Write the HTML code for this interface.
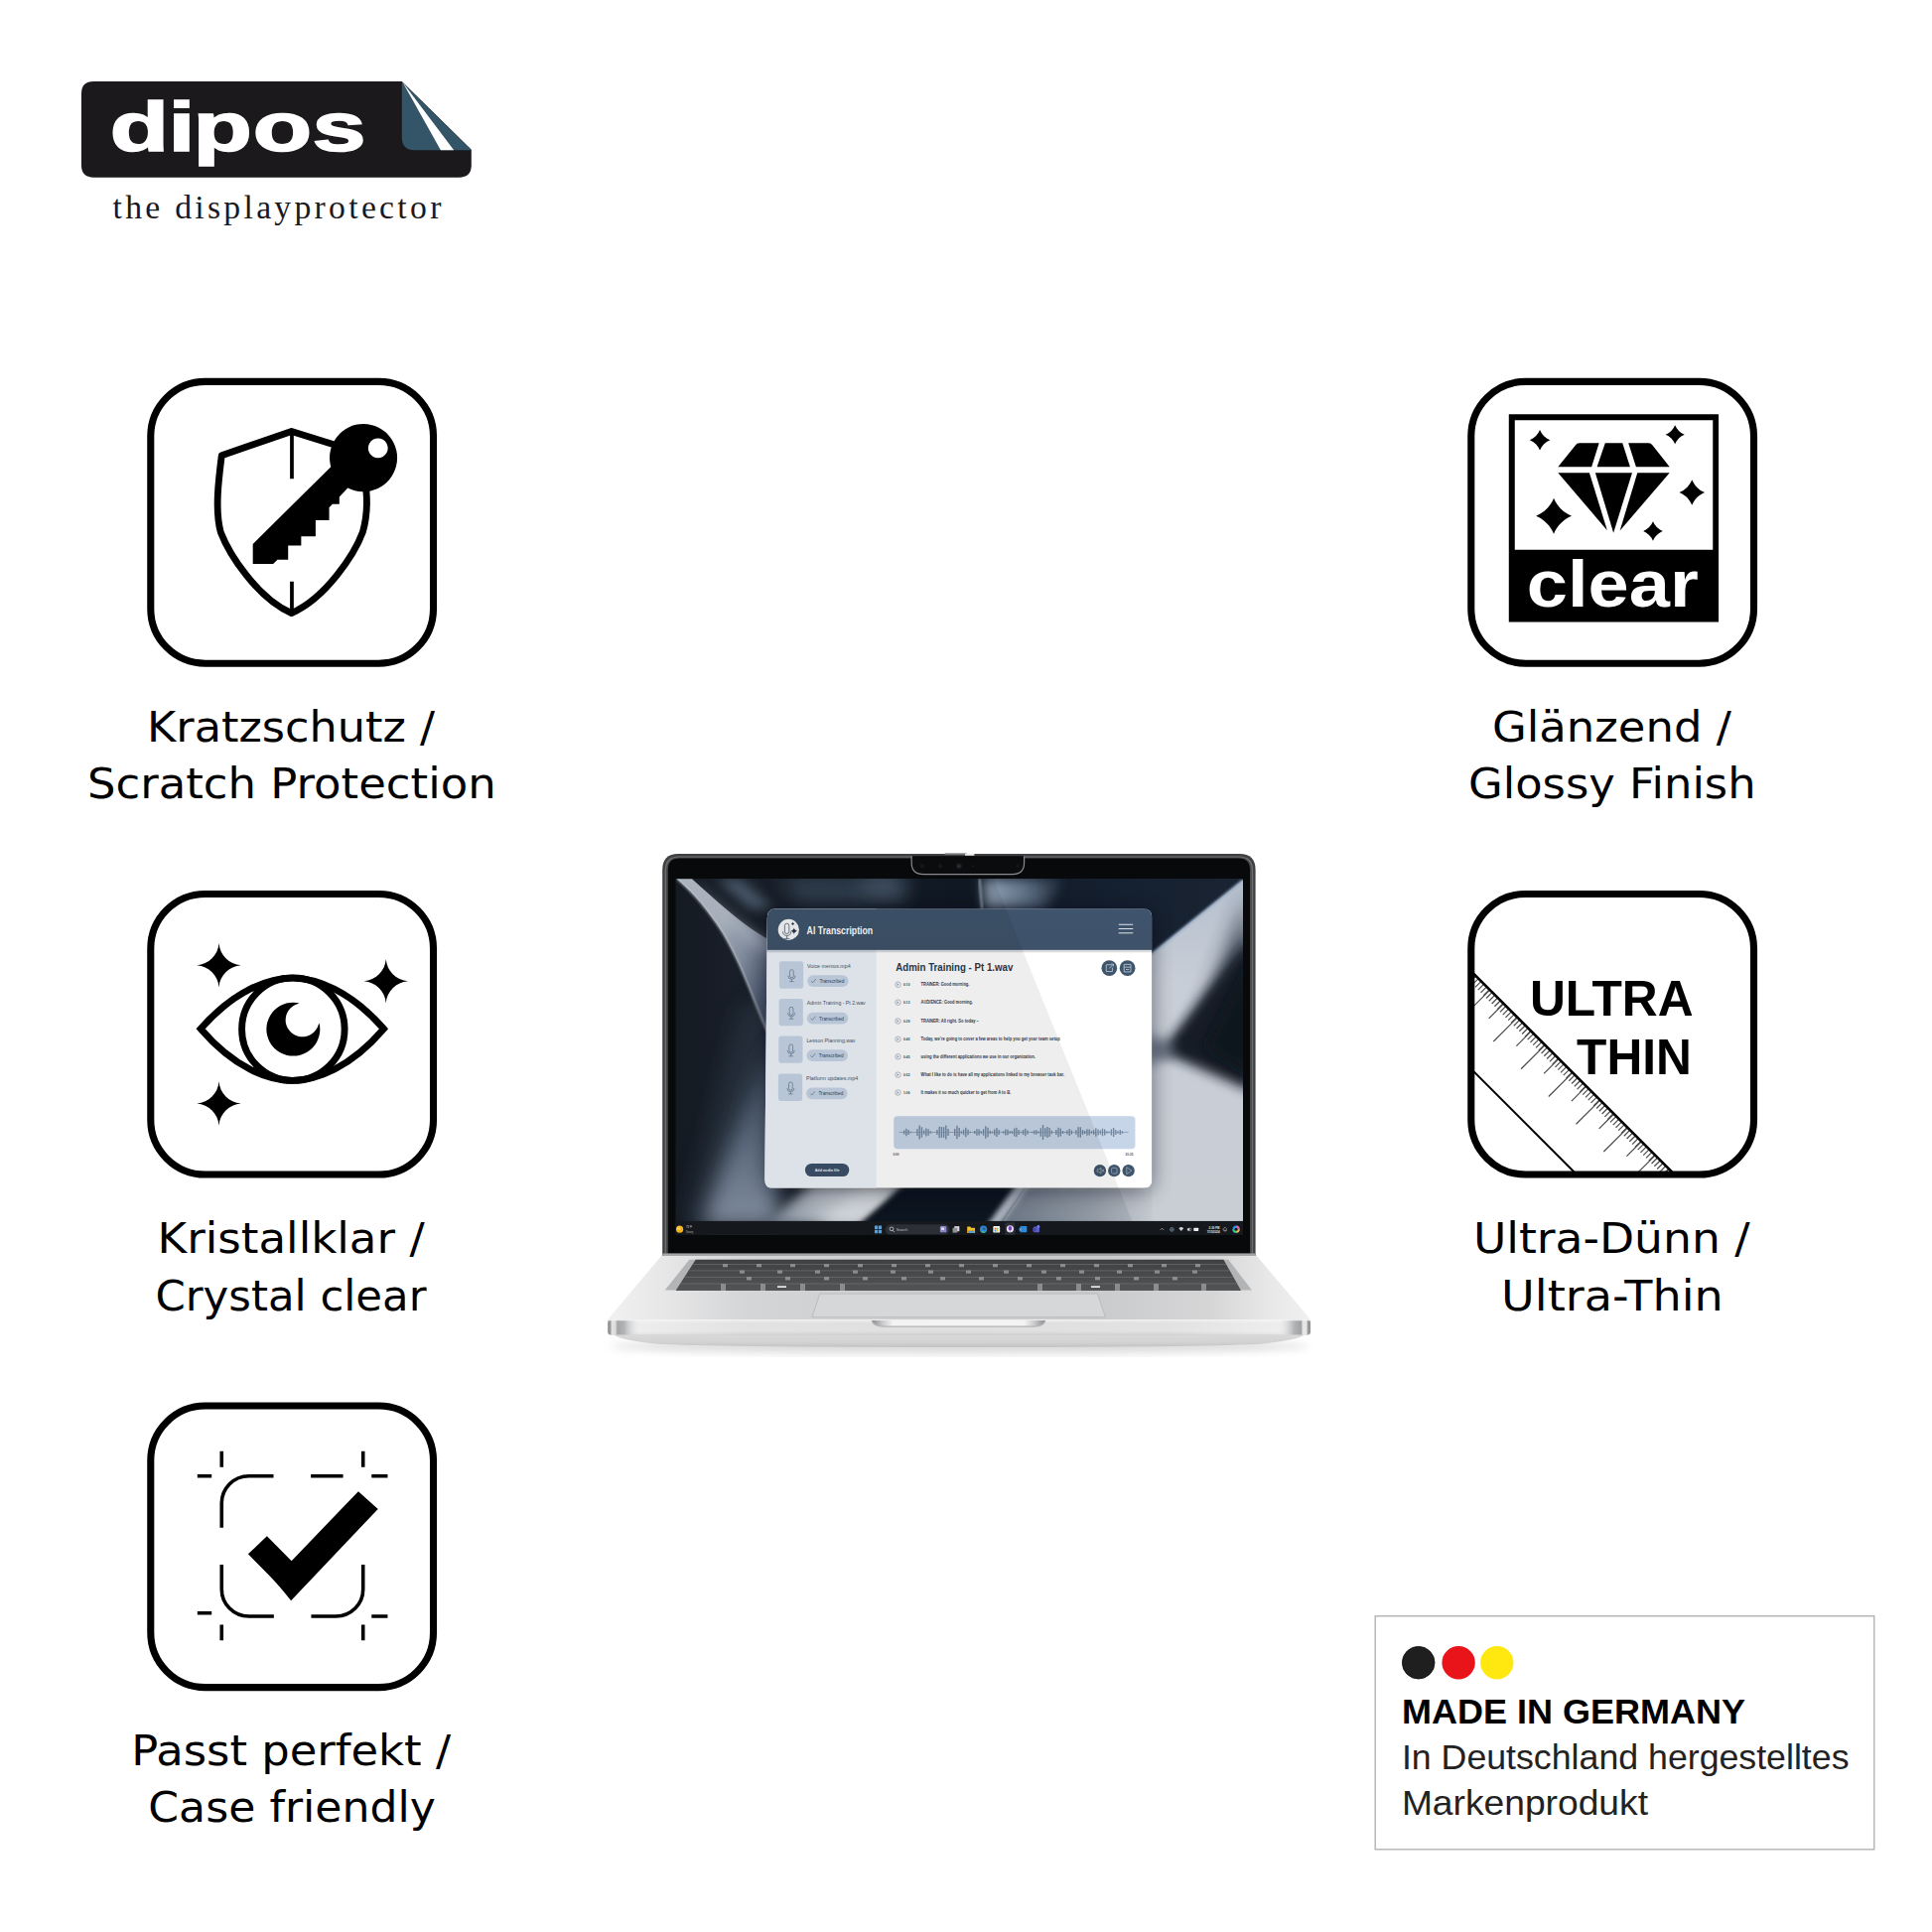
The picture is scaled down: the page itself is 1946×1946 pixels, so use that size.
<!DOCTYPE html>
<html lang="de">
<head>
<meta charset="utf-8">
<title>dipos – the displayprotector</title>
<style>
html,body{margin:0;padding:0;background:#fff;}
body{width:1946px;height:1946px;overflow:hidden;position:relative;}
svg{position:absolute;left:0;top:0;display:block;}
.cap{font-family:"DejaVu Sans","Liberation Sans",sans-serif;font-size:43px;fill:#000;text-anchor:middle;}
.hb{font-family:"Liberation Sans",sans-serif;font-weight:bold;}
.hr{font-family:"Liberation Sans",sans-serif;}
.box{fill:none;stroke:#000;stroke-width:41.5;}
</style>
</head>
<body>
<svg width="1946" height="1946" viewBox="0 0 1946 1946">
<rect width="1946" height="1946" fill="#fff"/>
<!-- LOGO -->
<g transform="translate(70,70) scale(0.217391)">
  <path d="M112,55 H1540 L1862,372 V443 Q1862,500 1805,500 H112 Q55,500 55,443 V112 Q55,55 112,55Z" fill="#1c191d"/>
  <path d="M1540,57 L1862,374 H1600 Q1540,374 1540,314Z" fill="#335567"/>
  <path d="M1544,60 L1781,374 H1720Z" fill="#fff"/>
  <text transform="scale(1.375,1)" x="136.1 332.8 416.8 618.2 818" y="377" class="hb" font-size="325" fill="#fff" stroke="#fff" stroke-width="8" stroke-linejoin="miter">dipos</text>
  <text x="200" y="690" font-family="'Liberation Serif',serif" font-size="155" fill="#1c191d" textLength="1522" lengthAdjust="spacing">the displayprotector</text>
</g>
<!-- ICON 1: scratch protection -->
<g transform="translate(130,360) scale(0.170807)">
  <rect x="127.5" y="142.5" width="1667" height="1662" rx="322" ry="322" class="box"/>
  <path d="M1240,524 L958,436 L546,578 C528,720 505,900 540,1030 C590,1160 756,1420 958,1508 C1160,1420 1330,1160 1378,1030 C1398,960 1408,880 1398,780"  fill="none" stroke="#000" stroke-width="40" stroke-linejoin="round" stroke-linecap="butt"/>
  <path d="M960,455 V716 M960,1322 V1492" stroke="#000" stroke-width="22" fill="none"/>
  <path fill-rule="evenodd" d="M1383,392 A200,200 0 1 1 1290,770 L1240,822 V865 H1200 L1180,885 V960 H1100 V1055 H1015 V1110 H938 V1193 H875 L850,1218 H730 V1100 L1190,645 A200,200 0 0 1 1383,392Z M1468,477 A58,58 0 1 0 1468.1,477Z" fill="#000"/>
</g>
<!-- ICON 2: crystal clear -->
<g transform="translate(130,880) scale(0.170807)">
  <rect x="127.5" y="120" width="1667" height="1654" rx="322" ry="322" class="box"/>
  <path d="M422,915 C620,690 820,615 962,615 C1105,615 1305,690 1502,915 C1305,1145 1105,1220 962,1220 C820,1220 620,1145 422,915Z" fill="none" stroke="#000" stroke-width="40" stroke-linejoin="miter"/>
  <circle cx="968" cy="917" r="303" fill="none" stroke="#000" stroke-width="40"/>
  <path fill-rule="evenodd" d="M968,759 A158,158 0 1 0 968.1,759Z M1022,764 A99,99 0 1 1 1021.9,764Z" fill="#000"/>
  <path d="M1000,762 A100,100 0 0 0 1122,885 L1140,820 L1060,750Z" fill="#fff"/>
  <path d="M530.0,410.0C535.2,480.2 589.8,534.8 660.0,540.0C589.8,545.2 535.2,599.8 530.0,670.0C524.8,599.8 470.2,545.2 400.0,540.0C470.2,534.8 524.8,480.2 530.0,410.0Z" fill="#000"/>
  <path d="M1515.0,504.0C1520.2,574.2 1574.8,628.8 1645.0,634.0C1574.8,639.2 1520.2,693.8 1515.0,764.0C1509.8,693.8 1455.2,639.2 1385.0,634.0C1455.2,628.8 1509.8,574.2 1515.0,504.0Z" fill="#000"/>
  <path d="M530.0,1225.0C535.2,1295.2 589.8,1349.8 660.0,1355.0C589.8,1360.2 535.2,1414.8 530.0,1485.0C524.8,1414.8 470.2,1360.2 400.0,1355.0C470.2,1349.8 524.8,1295.2 530.0,1225.0Z" fill="#000"/>
</g>
<!-- ICON 3: case friendly -->
<g transform="translate(130,1400) scale(0.170807)">
  <rect x="127.5" y="94" width="1667" height="1660" rx="322" ry="322" class="box"/>
  <g fill="none" stroke="#000" stroke-width="21">
    <path d="M546,812 V668 A160,160 0 0 1 706,508 H852"/>
    <path d="M1072,508 H1262"/>
    <path d="M546,1030 V1175 A160,160 0 0 0 706,1335 H854"/>
    <path d="M1380,1030 V1175 A160,160 0 0 1 1220,1335 H1074"/>
    <path d="M546,362 V455 M1380,362 V455 M546,1385 V1477 M1380,1385 V1477"/>
    <path d="M403,508 H487 M1430,508 H1525 M403,1316 H487 M1430,1335 H1525"/>
  </g>
  <path d="M702,968 L813,862 L958,1008 L1352,598 L1468,702 L955,1243 Q890,1160 830,1098Z" fill="#000"/>
</g>
<!-- ICON 4: glossy / clear -->
<g transform="translate(1460,360) scale(0.170807)">
  <rect x="127.5" y="142.5" width="1667" height="1662" rx="322" ry="322" class="box"/>
  <path fill-rule="evenodd" d="M350,335 H1587 V1560 H350Z M385,370 V1135 H1553 V370Z" fill="#000"/>
  <path d="M765,505 H882 L838,645 H640 L745,515 Q753,505 765,505Z" fill="#000"/>
  <path d="M918,505 H1020 L1065,645 H870Z" fill="#000"/>
  <path d="M1055,505 H1175 Q1187,505 1195,515 L1298,645 H1100Z" fill="#000"/>
  <path d="M640,680 H825 L930,1020Z" fill="#000"/>
  <path d="M860,680 H1077 L967,1035Z" fill="#000"/>
  <path d="M1108,680 H1298 L1005,1022Z" fill="#000"/>
  <path d="M533.0,427.0C543.8,454.0 566.0,476.2 593.0,487.0C566.0,497.8 543.8,520.0 533.0,547.0C522.2,520.0 500.0,497.8 473.0,487.0C500.0,476.2 522.2,454.0 533.0,427.0Z" fill="#000"/>
  <path d="M1330.0,399.0C1340.1,424.2 1360.8,444.9 1386.0,455.0C1360.8,465.1 1340.1,485.8 1330.0,511.0C1319.9,485.8 1299.2,465.1 1274.0,455.0C1299.2,444.9 1319.9,424.2 1330.0,399.0Z" fill="#000"/>
  <path d="M1430.0,721.0C1443.5,754.8 1471.2,782.5 1505.0,796.0C1471.2,809.5 1443.5,837.2 1430.0,871.0C1416.5,837.2 1388.8,809.5 1355.0,796.0C1388.8,782.5 1416.5,754.8 1430.0,721.0Z" fill="#000"/>
  <path d="M615.0,830.0C633.9,877.2 672.8,916.1 720.0,935.0C672.8,953.9 633.9,992.8 615.0,1040.0C596.1,992.8 557.2,953.9 510.0,935.0C557.2,916.1 596.1,877.2 615.0,830.0Z" fill="#000"/>
  <path d="M1200.0,968.0C1210.3,993.6 1231.3,1014.7 1257.0,1025.0C1231.3,1035.3 1210.3,1056.3 1200.0,1082.0C1189.7,1056.3 1168.7,1035.3 1143.0,1025.0C1168.7,1014.7 1189.7,993.6 1200.0,968.0Z" fill="#000"/>
  <text x="456" y="1472" class="hb" font-size="388" fill="#fff" textLength="1012" lengthAdjust="spacingAndGlyphs">clear</text>
</g>
<!-- ICON 5: ultra thin -->
<g transform="translate(1460,880) scale(0.170807)">
  <defs><clipPath id="cpU"><rect x="127.5" y="120" width="1667" height="1654" rx="322" ry="322"/></clipPath></defs>
  <g clip-path="url(#cpU)">
    <g transform="translate(148,595) rotate(45)">
      <!-- x axis runs along the ruler's upper edge, y axis points into the ruler -->
      <line x1="-40" y1="25" x2="1700" y2="25" stroke="#4a4a4a" stroke-width="50" stroke-dasharray="7 15.98"/>
      <line x1="9.3" y1="62" x2="1700" y2="62" stroke="#4a4a4a" stroke-width="124" stroke-dasharray="7 222.81"/>
      <line x1="124.2" y1="100" x2="1700" y2="100" stroke="#4a4a4a" stroke-width="200" stroke-dasharray="7 222.81"/>
      <line x1="-40" y1="0" x2="1700" y2="0" stroke="#000" stroke-width="15"/>
      <line x1="-40" y1="408" x2="1700" y2="408" stroke="#000" stroke-width="12"/>
    </g>
  </g>
  <rect x="127.5" y="120" width="1667" height="1654" rx="322" ry="322" class="box"/>
  <text x="474" y="838" class="hb" font-size="296" fill="#000" textLength="964" lengthAdjust="spacingAndGlyphs">ULTRA</text>
  <text x="750" y="1180" class="hb" font-size="296" fill="#000" textLength="678" lengthAdjust="spacingAndGlyphs">THIN</text>
</g>
<!-- CAPTIONS -->
<g class="cap">
<text x="293.1" y="746.6" textLength="290.0" lengthAdjust="spacingAndGlyphs">Kratzschutz /</text>
<text x="293.8" y="804.1" textLength="411.7" lengthAdjust="spacingAndGlyphs">Scratch Protection</text>
<text x="293.1" y="1262.4" textLength="269.0" lengthAdjust="spacingAndGlyphs">Kristallklar /</text>
<text x="293.0" y="1319.5" textLength="273.1" lengthAdjust="spacingAndGlyphs">Crystal clear</text>
<text x="293.1" y="1778.1" textLength="321.8" lengthAdjust="spacingAndGlyphs">Passt perfekt /</text>
<text x="294.1" y="1834.5" textLength="289.6" lengthAdjust="spacingAndGlyphs">Case friendly</text>
<text x="1623.4" y="746.6" textLength="240.8" lengthAdjust="spacingAndGlyphs">Glänzend /</text>
<text x="1623.8" y="804.1" textLength="289.7" lengthAdjust="spacingAndGlyphs">Glossy Finish</text>
<text x="1623.3" y="1262.4" textLength="278.7" lengthAdjust="spacingAndGlyphs">Ultra-Dünn /</text>
<text x="1623.9" y="1319.5" textLength="223.6" lengthAdjust="spacingAndGlyphs">Ultra-Thin</text>
</g>
<!-- MADE IN GERMANY -->
<rect x="1385.2" y="1627.8" width="502.6" height="235" fill="#fff" stroke="#adadad" stroke-width="1.3"/>
<circle cx="1428.7" cy="1674.7" r="16.3" fill="#1f1f1f" stroke="#121212" stroke-width="0.9"/>
<circle cx="1469.1" cy="1674.7" r="16.7" fill="#e9141a"/>
<circle cx="1507.8" cy="1674.7" r="16.7" fill="#ffe80f"/>
<text x="1412" y="1736.3" class="hb" font-size="35.2" fill="#000" textLength="346" lengthAdjust="spacingAndGlyphs">MADE IN GERMANY</text>
<text x="1411.9" y="1782.1" class="hr" font-size="35.6" fill="#222" textLength="450.6" lengthAdjust="spacingAndGlyphs">In Deutschland hergestelltes</text>
<text x="1411.9" y="1827.8" class="hr" font-size="35.6" fill="#222" textLength="248.1" lengthAdjust="spacingAndGlyphs">Markenprodukt</text>
<!-- LAPTOP -->
<defs>
  <filter id="b4" x="-20%" y="-20%" width="140%" height="140%"><feGaussianBlur stdDeviation="4"/></filter>
  <filter id="b8" x="-30%" y="-30%" width="160%" height="160%"><feGaussianBlur stdDeviation="8"/></filter>
  <filter id="b2" x="-20%" y="-20%" width="140%" height="140%"><feGaussianBlur stdDeviation="2"/></filter>
  <filter id="b1" x="-20%" y="-20%" width="140%" height="140%"><feGaussianBlur stdDeviation="1"/></filter>
  <linearGradient id="gDeck" x1="0" y1="0" x2="1" y2="0">
    <stop offset="0" stop-color="#f1f1f1"/><stop offset="0.08" stop-color="#e7e7e8"/><stop offset="0.2" stop-color="#d4d5d6"/><stop offset="0.45" stop-color="#cccdcf"/><stop offset="0.7" stop-color="#cacbcd"/><stop offset="0.86" stop-color="#d6d6d7"/><stop offset="0.94" stop-color="#e8e8e8"/><stop offset="1" stop-color="#f0f0f0"/>
  </linearGradient>
  <linearGradient id="gLip" x1="0" y1="0" x2="0" y2="1">
    <stop offset="0" stop-color="#e9e9ea"/><stop offset="0.25" stop-color="#dededf"/><stop offset="0.7" stop-color="#e0e0e1"/><stop offset="0.9" stop-color="#d8d8d9"/><stop offset="1" stop-color="#c8c8c9"/>
  </linearGradient>
  <linearGradient id="gLipH" x1="0" y1="0" x2="1" y2="0">
    <stop offset="0" stop-color="#fff" stop-opacity="0.55"/><stop offset="0.2" stop-color="#fff" stop-opacity="0.1"/><stop offset="0.5" stop-color="#fff" stop-opacity="0"/><stop offset="0.8" stop-color="#fff" stop-opacity="0.1"/><stop offset="1" stop-color="#fff" stop-opacity="0.55"/>
  </linearGradient>
  <linearGradient id="gNotch" x1="0" y1="0" x2="1" y2="0">
    <stop offset="0" stop-color="#8d8e90"/><stop offset="0.06" stop-color="#c9c9ca"/><stop offset="0.12" stop-color="#f3f3f3"/><stop offset="0.88" stop-color="#f3f3f3"/><stop offset="0.94" stop-color="#c9c9ca"/><stop offset="1" stop-color="#8d8e90"/>
  </linearGradient>
  <linearGradient id="gUnder" x1="0" y1="0" x2="0" y2="1">
    <stop offset="0" stop-color="#c9c9ca"/><stop offset="0.15" stop-color="#dadadb"/><stop offset="0.7" stop-color="#d3d3d4"/><stop offset="1" stop-color="#c2c2c3"/>
  </linearGradient>
  <linearGradient id="gLipEnd" x1="0" y1="0" x2="1" y2="0">
    <stop offset="0" stop-color="#8e8f91"/><stop offset="0.0035" stop-color="#9a9b9d"/><stop offset="0.006" stop-color="#e2e2e3"/><stop offset="0.011" stop-color="#dcdcdd"/><stop offset="0.0135" stop-color="#a4a5a7"/><stop offset="0.023" stop-color="#b2b3b5"/><stop offset="0.045" stop-color="#e4e4e5" stop-opacity="0"/>
    <stop offset="0.955" stop-color="#e4e4e5" stop-opacity="0"/><stop offset="0.977" stop-color="#b2b3b5"/><stop offset="0.9865" stop-color="#a0a1a3"/><stop offset="0.989" stop-color="#e4e4e5"/><stop offset="0.994" stop-color="#e8e8e9"/><stop offset="0.9965" stop-color="#9a9b9d"/><stop offset="1" stop-color="#8e8f91"/>
  </linearGradient>
  <linearGradient id="gKb" x1="0" y1="0" x2="0" y2="1">
    <stop offset="0" stop-color="#3f4042"/><stop offset="1" stop-color="#535456"/>
  </linearGradient>
  <clipPath id="cpScreen"><rect x="680.5" y="885" width="571.5" height="358.8"/></clipPath>
</defs>
<!-- ground shadow -->
<ellipse cx="966" cy="1356" rx="352" ry="7.5" fill="#a9a9ab" opacity="0.42" filter="url(#b4)"/>
<!-- underside curve -->
<path d="M612.5,1340 Q616,1349 660,1353.5 Q720,1357 966,1357 Q1212,1357 1272,1353.5 Q1316,1349 1319.8,1340Z" fill="url(#gUnder)"/>
<!-- deck -->
<path d="M667,1264 H1265 L1320,1329 V1332 H612.2 V1329Z" fill="url(#gDeck)"/>
<!-- front lip -->
<path d="M614.5,1329.5 H1317.7 Q1320,1329.5 1320,1332 V1341.5 Q1320,1344.5 1317,1344.5 H615.2 Q612.2,1344.5 612.2,1341.5 V1332 Q612.2,1329.5 614.5,1329.5Z" fill="url(#gLip)"/>
<rect x="612.2" y="1329.5" width="707.8" height="15" fill="url(#gLipH)"/>
<path d="M614.5,1329.5 H1317.7 Q1320,1329.5 1320,1332 V1341.5 Q1320,1344.5 1317,1344.5 H615.2 Q612.2,1344.5 612.2,1341.5 V1332 Q612.2,1329.5 614.5,1329.5Z" fill="url(#gLipEnd)"/>
<path d="M613,1329.7 H1319.2" stroke="#f4f4f4" stroke-width="1.1"/>
<!-- thumb notch -->
<path d="M877.5,1330 Q879,1336.8 890,1336.8 H1041 Q1052,1336.8 1053.5,1330Z" fill="#b3b4b6"/>
<path d="M878.5,1330 Q880,1335.6 891,1335.6 H1040 Q1051,1335.6 1052.5,1330Z" fill="url(#gNotch)"/>
<!-- keyboard rim and keys -->
<path d="M694.4,1268.7 H1237.3 L1260.9,1299.6 H669.8Z" fill="#b3b4b6"/>
<path d="M700.7,1268.7 H1232.4 L1250.1,1300.1 H680.6Z" fill="url(#gKb)"/>
<g stroke="#6e6f71" stroke-width="0.9" opacity="0.8">
  <path d="M697.5,1273.6 H1235.2 M693.5,1279.9 H1238.7 M689.3,1286.4 H1242.4 M685.2,1293 H1246.1"/>
</g>
<g fill="#8b8c8e">
  <rect x="728" y="1273" width="5" height="3.2"/><rect x="762" y="1273" width="5" height="3.2"/><rect x="796" y="1273" width="5" height="3.2"/><rect x="830" y="1273" width="5" height="3.2"/><rect x="864" y="1273" width="5" height="3.2"/><rect x="898" y="1273" width="5" height="3.2"/><rect x="932" y="1273" width="5" height="3.2"/><rect x="966" y="1273" width="5" height="3.2"/><rect x="1000" y="1273" width="5" height="3.2"/><rect x="1034" y="1273" width="5" height="3.2"/><rect x="1068" y="1273" width="5" height="3.2"/><rect x="1102" y="1273" width="5" height="3.2"/><rect x="1136" y="1273" width="5" height="3.2"/><rect x="1170" y="1273" width="5" height="3.2"/><rect x="1204" y="1273" width="5" height="3.2"/>
  <rect x="745" y="1279.5" width="5" height="3.2"/><rect x="783" y="1279.5" width="5" height="3.2"/><rect x="821" y="1279.5" width="5" height="3.2"/><rect x="859" y="1279.5" width="5" height="3.2"/><rect x="897" y="1279.5" width="5" height="3.2"/><rect x="935" y="1279.5" width="5" height="3.2"/><rect x="973" y="1279.5" width="5" height="3.2"/><rect x="1011" y="1279.5" width="5" height="3.2"/><rect x="1049" y="1279.5" width="5" height="3.2"/><rect x="1087" y="1279.5" width="5" height="3.2"/><rect x="1125" y="1279.5" width="5" height="3.2"/><rect x="1163" y="1279.5" width="5" height="3.2"/><rect x="1201" y="1279.5" width="5" height="3.2"/>
  <rect x="752" y="1286" width="5" height="3.4"/><rect x="791" y="1286" width="5" height="3.4"/><rect x="830" y="1286" width="5" height="3.4"/><rect x="869" y="1286" width="5" height="3.4"/><rect x="908" y="1286" width="5" height="3.4"/><rect x="947" y="1286" width="5" height="3.4"/><rect x="986" y="1286" width="5" height="3.4"/><rect x="1025" y="1286" width="5" height="3.4"/><rect x="1064" y="1286" width="5" height="3.4"/><rect x="1103" y="1286" width="5" height="3.4"/><rect x="1142" y="1286" width="5" height="3.4"/><rect x="1181" y="1286" width="5" height="3.4"/>
  <rect x="726" y="1293" width="5" height="7"/><rect x="766" y="1293" width="5" height="7"/><rect x="806" y="1293" width="5" height="7"/><rect x="846" y="1293" width="5" height="7"/><rect x="1045" y="1293" width="5" height="7"/><rect x="1084" y="1293" width="5" height="7"/><rect x="1123" y="1293" width="5" height="7"/><rect x="1162" y="1293" width="5" height="7"/><rect x="1210" y="1293" width="5" height="7"/>
</g>
<rect x="783" y="1295.3" width="9" height="1.6" fill="#f2f2f2"/><rect x="1099" y="1295.3" width="9" height="1.6" fill="#f2f2f2"/>
<!-- trackpad -->
<path d="M825.8,1303.1 H1105.5 L1113.4,1326.7 H817.9Z" fill="#d6d7d8" stroke="#b4b5b7" stroke-width="0.8"/>
<!-- lid -->
<path d="M667.2,1264.8 V876.2 Q667.2,860.1 683.3,860.1 H1248.5 Q1264.6,860.1 1264.6,876.2 V1264.8Z" fill="#3f4042"/>
<path d="M669.6,1264.8 V876.6 Q669.6,862.4 683.8,862.4 H1248 Q1262.2,862.4 1262.2,876.6 V1264.8Z" fill="#6d6e71"/>
<path d="M671,1264.8 V877 Q671,863.6 684.4,863.6 H1247.4 Q1260.8,863.6 1260.8,877 V1264.8Z" fill="#47484a"/>
<path d="M672.8,1262.4 V876 Q672.8,864.5 684.3,864.5 H1247.5 Q1259,864.5 1259,876 V1262.4Z" fill="#08090a"/>
<path d="M667.4,1262.4 H1264.4 V1264.9 H667.4Z" fill="#a4a5a7"/>
<!-- SCREEN -->
<defs>
  <filter id="w60" x="-40%" y="-40%" width="180%" height="180%"><feGaussianBlur stdDeviation="60"/></filter>
  <filter id="w35" x="-40%" y="-40%" width="180%" height="180%"><feGaussianBlur stdDeviation="35"/></filter>
  <filter id="w15" x="-40%" y="-40%" width="180%" height="180%"><feGaussianBlur stdDeviation="15"/></filter>
  <filter id="w6" x="-40%" y="-40%" width="180%" height="180%"><feGaussianBlur stdDeviation="6"/></filter>
  <linearGradient id="gWall" x1="0" y1="0" x2="1" y2="0">
    <stop offset="0" stop-color="#161c25"/><stop offset="0.1" stop-color="#1b222c"/><stop offset="0.5" stop-color="#121a26"/><stop offset="0.78" stop-color="#152030"/><stop offset="1" stop-color="#1a2432"/>
  </linearGradient>
  <linearGradient id="gPeel" x1="0" y1="0" x2="1" y2="0.9">
    <stop offset="0" stop-color="#bac2cd"/><stop offset="0.4" stop-color="#b0b9c6"/><stop offset="0.62" stop-color="#8a96a8"/><stop offset="0.85" stop-color="#56637a"/><stop offset="1" stop-color="#3f4b5c"/>
  </linearGradient>
  <linearGradient id="gLeftLow" x1="0" y1="0" x2="0" y2="1">
    <stop offset="0" stop-color="#3d4a5b"/><stop offset="0.5" stop-color="#5e6d82"/><stop offset="1" stop-color="#8a97a9"/>
  </linearGradient>
  <linearGradient id="gFold" x1="0" y1="0" x2="0" y2="1">
    <stop offset="0" stop-color="#b5bfcd"/><stop offset="0.3" stop-color="#c8ced7"/><stop offset="1" stop-color="#c9ced5"/>
  </linearGradient>
  <linearGradient id="gStreak" x1="0" y1="0" x2="1" y2="0">
    <stop offset="0" stop-color="#95a6ba"/><stop offset="0.5" stop-color="#62748a"/><stop offset="1" stop-color="#1a2533"/>
  </linearGradient>
  <linearGradient id="gBeam" x1="0" y1="0" x2="1" y2="0">
    <stop offset="0" stop-color="#7a8798"/><stop offset="0.4" stop-color="#c0c7d0"/><stop offset="0.75" stop-color="#dfe2e7"/><stop offset="1" stop-color="#cfd4da"/>
  </linearGradient>
  <linearGradient id="gBotR" x1="0" y1="0" x2="1" y2="0">
    <stop offset="0" stop-color="#6f7b8a"/><stop offset="0.6" stop-color="#9aa3af"/><stop offset="1" stop-color="#c4c9d0"/>
  </linearGradient>
  <linearGradient id="gWin" x1="0" y1="0" x2="0" y2="1">
    <stop offset="0" stop-color="#3f556d"/><stop offset="1" stop-color="#3e526a"/>
  </linearGradient>
</defs>
<g clip-path="url(#cpScreen)">
 <g transform="translate(650,845) scale(0.170807)">
  <rect x="150" y="200" width="3420" height="2170" fill="url(#gWall)"/>
  <!-- lower-left lighter haze -->
  <path d="M560,1000 L780,900 L780,2280 L230,2280Z" fill="#2a3542" opacity="0.85" filter="url(#w60)"/>
  <path d="M780,1180 L780,2280 L340,2280 C450,1900 610,1500 780,1180Z" fill="url(#gLeftLow)" filter="url(#w60)"/>
  <!-- top-left film peel -->
  <path d="M185,235 L275,235 C470,410 590,520 740,600 L740,1180 C650,1000 560,700 420,500 C330,370 260,300 185,235Z" fill="url(#gPeel)"/>
  <path d="M275,235 C470,410 590,520 740,600 L740,700 C600,620 430,470 275,235Z" fill="#c3cbd7" opacity="0.4" filter="url(#w35)"/>
  <path d="M740,1180 C650,1000 560,700 420,500 C330,370 260,300 185,235" fill="none" stroke="#d3d9e1" stroke-width="7" filter="url(#w6)"/>
  <!-- top strip streaks -->
  <path d="M422,235 L560,235 L760,412 L620,412Z" fill="#4d5d6f" filter="url(#w35)"/>
  <path d="M800,225 L1540,225 L1520,380 L900,380Z" fill="#364454" filter="url(#w60)"/>
  <path d="M1250,215 L1520,215 L1500,330 L1330,330Z" fill="#5a6b80" opacity="0.6" filter="url(#w60)"/>
  <path d="M1992,235 L2470,235 L2360,412 L2004,412Z" fill="url(#gStreak)" filter="url(#w35)"/>
  <path d="M1970,235 L1986,412" stroke="#93a4b9" stroke-width="12" fill="none" filter="url(#w6)"/>
  <!-- right fold -->
  <path d="M3522,243 L2960,697 L2960,2270 L3540,2270 L3540,243Z" fill="url(#gFold)"/>
  <path d="M3522,243 L2960,697" stroke="#8fa3be" stroke-width="13" fill="none" filter="url(#w6)"/>
  <path d="M3560,330 L3560,1150 L3220,1190Z" fill="#27323f" opacity="0.9" filter="url(#w60)"/>
  <path d="M3600,620 L3600,1250 L3130,1235Z" fill="#1b2430" filter="url(#w35)"/>
  <path d="M3580,560 L3580,1490 L3060,1262 L3060,1228Z" fill="#161e28" filter="url(#w35)"/>
  <path d="M3580,700 L3580,1400 L3300,1230Z" fill="#10161e" filter="url(#w35)"/>
  <path d="M2960,1150 L3120,1215 L3120,1280 L2960,1330Z" fill="#566273" opacity="0.8" filter="url(#w35)"/>
  <!-- bottom strip -->
  <path d="M700,2280 L1265,2280 L1560,2030 L980,2030Z" fill="url(#gBeam)" filter="url(#w35)"/>
  <path d="M1000,2280 L1255,2280 L1470,2090 L1250,2090Z" fill="#dfe3e8" opacity="0.85" filter="url(#w35)"/>
  <path d="M1245,2290 L2019,2290 L2200,2030 L1540,2030Z" fill="#0d1622" filter="url(#w15)"/>
  <path d="M2085,2290 L2990,2290 L2990,2030 L2262,2030Z" fill="url(#gBotR)"/>
  <path d="M2005,2290 L2085,2290 L2275,2030 L2195,2030Z" fill="#b3bcc8" filter="url(#w15)"/>
  <!-- window shadow -->
  <rect x="712" y="420" width="2282" height="1660" rx="55" ry="55" fill="#0a0f16" opacity="0.45" filter="url(#w60)"/>
  <!-- app window -->
  <clipPath id="cpWin"><path d="M771,412 H2936 Q2988,412 2988,464 V2008 Q2988,2060 2936,2060 H756 Q703.5,2060 704,2008 L719.2,464 Q719.7,412 771,412Z"/></clipPath>
  <g clip-path="url(#cpWin)">
    <rect x="700" y="412" width="2290" height="1648" fill="#ffffff"/>
    <rect x="700" y="412" width="662" height="1648" fill="#edf2f9"/>
    <rect x="700" y="412" width="2290" height="243" fill="url(#gWin)"/>
    <rect x="700" y="655" width="2290" height="14" fill="#2b3a4d" opacity="0.18"/>
  </g>
  <!-- app content -->
  <g font-family="'Liberation Sans',sans-serif">
    <circle cx="845" cy="535" r="62" fill="#f4f6f8"/>
    <path d="M822,512 a13,13 0 0 1 26,0 v34 a13,13 0 0 1 -26,0Z M811,546 a24,24 0 0 0 48,0 M835,570 v18 M820,588 h30" fill="none" stroke="#4a5868" stroke-width="4.5"/>
    <path d="M877.0,524.0C878.9,533.5 886.5,541.1 896.0,543.0C886.5,544.9 878.9,552.5 877.0,562.0C875.1,552.5 867.5,544.9 858.0,543.0C867.5,541.1 875.1,533.5 877.0,524.0Z" fill="#2b3644"/><path d="M870.0,489.0C871.1,494.5 875.5,498.9 881.0,500.0C875.5,501.1 871.1,505.5 870.0,511.0C868.9,505.5 864.5,501.1 859.0,500.0C864.5,498.9 868.9,494.5 870.0,489.0Z" fill="#2b3644"/>
    <text x="952" y="560" font-size="61" font-weight="bold" fill="#fff" textLength="390" lengthAdjust="spacingAndGlyphs">AI Transcription</text>
    <path d="M2791,505 H2876 M2791,530 H2876 M2791,555 H2876" stroke="#e9edf2" stroke-width="5.5" fill="none"/>
    <g transform="translate(0,0)">
      <rect x="790" y="722" width="142" height="160" rx="16" fill="#c5d4e7"/>
      <path d="M852,782 a11,11 0 0 1 22,0 v26 a11,11 0 0 1 -22,0Z M842,806 a21,21 0 0 0 42,0 M863,827 v14 M850,841 h26" fill="none" stroke="#5f7187" stroke-width="4"/>
      <text x="955" y="759" font-size="29" fill="#46566a" textLength="255" lengthAdjust="spacingAndGlyphs">Voice memos.mp4</text>
      <rect x="955" y="803" width="243" height="69" rx="34.5" fill="#c5d4e7"/>
      <path d="M978,838 l10,10 l18,-22" fill="none" stroke="#5f7187" stroke-width="4"/>
      <text x="1027" y="849" font-size="31" fill="#33465b" textLength="146" lengthAdjust="spacingAndGlyphs">Transcribed</text>
    </g>
    <g transform="translate(-2,220)">
      <rect x="790" y="722" width="142" height="160" rx="16" fill="#c5d4e7"/>
      <path d="M852,782 a11,11 0 0 1 22,0 v26 a11,11 0 0 1 -22,0Z M842,806 a21,21 0 0 0 42,0 M863,827 v14 M850,841 h26" fill="none" stroke="#5f7187" stroke-width="4"/>
      <text x="955" y="759" font-size="29" fill="#46566a" textLength="345" lengthAdjust="spacingAndGlyphs">Admin Training - Pt 2.wav</text>
      <rect x="955" y="803" width="243" height="69" rx="34.5" fill="#c5d4e7"/>
      <path d="M978,838 l10,10 l18,-22" fill="none" stroke="#5f7187" stroke-width="4"/>
      <text x="1027" y="849" font-size="31" fill="#33465b" textLength="146" lengthAdjust="spacingAndGlyphs">Transcribed</text>
    </g>
    <g transform="translate(-4,440)">
      <rect x="790" y="722" width="142" height="160" rx="16" fill="#c5d4e7"/>
      <path d="M852,782 a11,11 0 0 1 22,0 v26 a11,11 0 0 1 -22,0Z M842,806 a21,21 0 0 0 42,0 M863,827 v14 M850,841 h26" fill="none" stroke="#5f7187" stroke-width="4"/>
      <text x="955" y="759" font-size="29" fill="#46566a" textLength="287" lengthAdjust="spacingAndGlyphs">Lesson Planning.wav</text>
      <rect x="955" y="803" width="243" height="69" rx="34.5" fill="#c5d4e7"/>
      <path d="M978,838 l10,10 l18,-22" fill="none" stroke="#5f7187" stroke-width="4"/>
      <text x="1027" y="849" font-size="31" fill="#33465b" textLength="146" lengthAdjust="spacingAndGlyphs">Transcribed</text>
    </g>
    <g transform="translate(-6,663)">
      <rect x="790" y="722" width="142" height="160" rx="16" fill="#c5d4e7"/>
      <path d="M852,782 a11,11 0 0 1 22,0 v26 a11,11 0 0 1 -22,0Z M842,806 a21,21 0 0 0 42,0 M863,827 v14 M850,841 h26" fill="none" stroke="#5f7187" stroke-width="4"/>
      <text x="955" y="759" font-size="29" fill="#46566a" textLength="305" lengthAdjust="spacingAndGlyphs">Platform updates.mp4</text>
      <rect x="955" y="803" width="243" height="69" rx="34.5" fill="#c5d4e7"/>
      <path d="M978,838 l10,10 l18,-22" fill="none" stroke="#5f7187" stroke-width="4"/>
      <text x="1027" y="849" font-size="31" fill="#33465b" textLength="146" lengthAdjust="spacingAndGlyphs">Transcribed</text>
    </g>
    <rect x="942" y="1914" width="260" height="77" rx="38.5" fill="#3d5169"/>
    <text x="1072" y="1961" font-size="23" font-weight="bold" fill="#eef2f6" text-anchor="middle" textLength="146" lengthAdjust="spacingAndGlyphs">Add audio file</text>
    <text x="1477" y="780" font-size="68" font-weight="bold" fill="#2b3a4d" textLength="691" lengthAdjust="spacingAndGlyphs">Admin Training - Pt 1.wav</text>
    <circle cx="2736" cy="762" r="46" fill="#3f556c"/><circle cx="2843" cy="762" r="46" fill="#3f556c"/>
    <path d="M2748,742 h-30 v40 h36 v-24 M2736,764 l22,-24 M2746,738 h14 v14" fill="none" stroke="#c9d3de" stroke-width="4.5"/>
    <path d="M2823,740 h40 v44 h-40Z M2823,756 h40 M2833,770 h20" fill="none" stroke="#c9d3de" stroke-width="4.5"/>
    <circle cx="1490" cy="859" r="16" fill="none" stroke="#8794a4" stroke-width="3.5"/><path d="M1485,851 l11,8 l-11,8Z" fill="#8794a4"/>
    <text x="1522" y="868" font-size="19" font-weight="bold" fill="#3c4856" textLength="38" lengthAdjust="spacingAndGlyphs">0:10</text>
    <text x="1625" y="868" font-size="27" font-weight="bold" fill="#37414e" textLength="286" lengthAdjust="spacingAndGlyphs">TRAINER: Good morning.</text>
    <circle cx="1490" cy="964" r="16" fill="none" stroke="#8794a4" stroke-width="3.5"/><path d="M1485,956 l11,8 l-11,8Z" fill="#8794a4"/>
    <text x="1522" y="973" font-size="19" font-weight="bold" fill="#3c4856" textLength="38" lengthAdjust="spacingAndGlyphs">0:13</text>
    <text x="1625" y="973" font-size="27" font-weight="bold" fill="#37414e" textLength="306" lengthAdjust="spacingAndGlyphs">AUDIENCE: Good morning.</text>
    <circle cx="1490" cy="1074" r="16" fill="none" stroke="#8794a4" stroke-width="3.5"/><path d="M1485,1066 l11,8 l-11,8Z" fill="#8794a4"/>
    <text x="1522" y="1083" font-size="19" font-weight="bold" fill="#3c4856" textLength="38" lengthAdjust="spacingAndGlyphs">0:29</text>
    <text x="1625" y="1083" font-size="27" font-weight="bold" fill="#37414e" textLength="341" lengthAdjust="spacingAndGlyphs">TRAINER: All right. So today –</text>
    <circle cx="1490" cy="1181" r="16" fill="none" stroke="#8794a4" stroke-width="3.5"/><path d="M1485,1173 l11,8 l-11,8Z" fill="#8794a4"/>
    <text x="1522" y="1190" font-size="19" font-weight="bold" fill="#3c4856" textLength="38" lengthAdjust="spacingAndGlyphs">0:40</text>
    <text x="1625" y="1190" font-size="27" font-weight="bold" fill="#37414e" textLength="821" lengthAdjust="spacingAndGlyphs">Today, we’re going to cover a few areas to help you get your team setup</text>
    <circle cx="1490" cy="1284" r="16" fill="none" stroke="#8794a4" stroke-width="3.5"/><path d="M1485,1276 l11,8 l-11,8Z" fill="#8794a4"/>
    <text x="1522" y="1293" font-size="19" font-weight="bold" fill="#3c4856" textLength="38" lengthAdjust="spacingAndGlyphs">0:45</text>
    <text x="1625" y="1293" font-size="27" font-weight="bold" fill="#37414e" textLength="676" lengthAdjust="spacingAndGlyphs">using the different applications we use in our organization.</text>
    <circle cx="1490" cy="1391" r="16" fill="none" stroke="#8794a4" stroke-width="3.5"/><path d="M1485,1383 l11,8 l-11,8Z" fill="#8794a4"/>
    <text x="1522" y="1400" font-size="19" font-weight="bold" fill="#3c4856" textLength="38" lengthAdjust="spacingAndGlyphs">0:52</text>
    <text x="1625" y="1400" font-size="27" font-weight="bold" fill="#37414e" textLength="846" lengthAdjust="spacingAndGlyphs">What I like to do is have all my applications linked to my browser task bar.</text>
    <circle cx="1490" cy="1496" r="16" fill="none" stroke="#8794a4" stroke-width="3.5"/><path d="M1485,1488 l11,8 l-11,8Z" fill="#8794a4"/>
    <text x="1522" y="1505" font-size="19" font-weight="bold" fill="#3c4856" textLength="38" lengthAdjust="spacingAndGlyphs">1:06</text>
    <text x="1625" y="1505" font-size="27" font-weight="bold" fill="#37414e" textLength="531" lengthAdjust="spacingAndGlyphs">It makes it so much quicker to get from A to B.</text>
    <rect x="1465" y="1635" width="1424" height="193" rx="22" fill="#c6d5e8"/>
    <path d="M1500,1730 H2850" stroke="#8093aa" stroke-width="3"/>
    <path d="M1500,1728V1732M1513,1728V1732M1526,1718V1742M1539,1708V1752M1552,1716V1744M1565,1726V1734M1578,1728V1732M1591,1728V1732M1604,1709V1751M1617,1689V1771M1630,1699V1761M1643,1718V1742M1656,1706V1754M1669,1711V1749M1682,1723V1737M1695,1728V1732M1708,1728V1732M1721,1715V1745M1734,1697V1763M1747,1698V1762M1760,1699V1761M1773,1689V1771M1786,1709V1751M1799,1728V1732M1812,1728V1732M1825,1709V1751M1838,1691V1769M1851,1704V1756M1864,1722V1738M1877,1714V1746M1890,1702V1758M1903,1714V1746M1916,1726V1734M1929,1728V1732M1942,1721V1739M1955,1711V1749M1968,1713V1747M1981,1723V1737M1994,1711V1749M2007,1693V1767M2020,1702V1758M2033,1720V1740M2046,1724V1736M2059,1713V1747M2072,1704V1756M2085,1716V1744M2098,1728V1732M2111,1722V1738M2124,1713V1747M2137,1714V1746M2150,1723V1737M2163,1721V1739M2176,1707V1753M2189,1702V1758M2202,1716V1744M2215,1726V1734M2228,1716V1744M2241,1708V1752M2254,1718V1742M2267,1728V1732M2280,1725V1735M2293,1718V1742M2306,1717V1743M2319,1724V1736M2332,1705V1755M2345,1686V1774M2358,1705V1755M2371,1698V1762M2384,1704V1756M2397,1720V1740M2410,1728V1732M2423,1716V1744M2436,1702V1758M2449,1707V1753M2462,1721V1739M2475,1727V1733M2488,1718V1742M2501,1710V1750M2514,1719V1741M2527,1728V1732M2540,1717V1743M2553,1700V1760M2566,1699V1761M2579,1716V1744M2592,1721V1739M2605,1711V1749M2618,1713V1747M2631,1723V1737M2644,1717V1743M2657,1705V1755M2670,1712V1748M2683,1719V1741M2696,1708V1752M2709,1712V1748M2722,1723V1737M2735,1725V1735M2748,1713V1747M2761,1703V1757M2774,1715V1745M2787,1722V1738M2800,1716V1744M2813,1722V1738M2826,1728V1732M2839,1728V1732" stroke="#71869d" stroke-width="8" fill="none"/>
    <text x="1460" y="1868" font-size="18" font-weight="bold" fill="#4a5563">0:00</text>
    <text x="2831" y="1868" font-size="18" font-weight="bold" fill="#4a5563">20:25</text>
    <circle cx="2681" cy="1956.5" r="36" fill="#3f556c"/><circle cx="2765" cy="1956.5" r="36" fill="#3f556c"/><circle cx="2849" cy="1956.5" r="36" fill="#3f556c"/>
    <path d="M2665,1949 h10 l12,-10 v35 l-12,-10 h-10Z M2693,1948 l12,16 M2705,1948 l-12,16" fill="none" stroke="#b4c0ce" stroke-width="3.5"/>
    <rect x="2749" y="1940" width="32" height="33" rx="6" fill="none" stroke="#b4c0ce" stroke-width="3.5"/>
    <path d="M2838,1936 l30,20 l-30,21Z" fill="none" stroke="#b4c0ce" stroke-width="3.5" stroke-linejoin="round"/>
  </g>
  <!-- gloss: slightly dimmer left part -->
  <path d="M150,200 H2040 L2054,235 L2871,2254 H150Z" fill="#000" opacity="0.068"/>
  <!-- taskbar -->
  <rect x="150" y="2253.6" width="3420" height="90" fill="#15181d"/>
  <g font-family="'Liberation Sans',sans-serif">
    <circle cx="202.5" cy="2302" r="21" fill="#f5b11d"/><circle cx="197" cy="2296" r="11" fill="#ffd451" opacity="0.8"/>
    <text x="240" y="2294" font-size="17" fill="#d9dce0">71°F</text>
    <text x="240" y="2325" font-size="15" fill="#aab0b8">Sunny</text>
    <path d="M1352,2281 h19 v20 h-19Z M1375,2281 h19 v20 h-19Z M1352,2305 h19 v20 h-19Z M1375,2305 h19 v20 h-19Z" fill="#4aa3e6"/>
    <rect x="1415" y="2273" width="379" height="60" rx="30" fill="#2c3036"/>
    <circle cx="1452" cy="2300" r="11" fill="none" stroke="#e5e7ea" stroke-width="4"/><path d="M1460,2309 l9,10" stroke="#e5e7ea" stroke-width="4"/>
    <text x="1480" y="2310" font-size="23" fill="#b9bec6" textLength="68" lengthAdjust="spacingAndGlyphs">Search</text>
    <rect x="1738" y="2284" width="38" height="36" rx="5" fill="#8a86c9"/><rect x="1746" y="2292" width="16" height="14" fill="#e8e6ff"/>
    <rect x="1822" y="2284" width="30" height="30" fill="#d5d7da"/><rect x="1812" y="2294" width="28" height="28" fill="#8c9097"/>
    <path d="M1898,2286 h18 l6,7 h22 v30 h-46Z" fill="#f3c02c"/><rect x="1898" y="2306" width="46" height="17" fill="#e39f1c"/><rect x="1904" y="2312" width="34" height="11" fill="#4a9be0"/>
    <circle cx="1994" cy="2302" r="21" fill="#2d86d6"/><path d="M1976,2308 a19,19 0 0 0 34,8 a24,12 0 0 1 -34,-8Z" fill="#55c26a"/><circle cx="1998" cy="2298" r="8" fill="#15181d" opacity="0.35"/>
    <rect x="2051" y="2284" width="40" height="38" rx="5" fill="#f1f2f4"/><rect x="2059" y="2294" width="10" height="10" fill="#e85a3c"/><rect x="2071" y="2294" width="10" height="10" fill="#7bbf3f"/><rect x="2059" y="2306" width="10" height="10" fill="#3c9ae8"/><rect x="2071" y="2306" width="10" height="10" fill="#f3c02c"/>
    <rect x="2122" y="2262" width="58" height="80" rx="6" fill="#2a2e35"/><circle cx="2151" cy="2300" r="21" fill="#e9e4f5"/><path d="M2151,2284 a9,11 0 0 1 0,26 a5,8 0 0 1 0,10 a5,8 0 0 1 0,-10 a9,11 0 0 1 0,-26Z" fill="#7b48b8"/>
    <rect x="2210" y="2284" width="40" height="36" rx="4" fill="#2a8ee0"/><rect x="2204" y="2292" width="22" height="22" fill="#1562b0"/><circle cx="2215" cy="2303" r="6" fill="none" stroke="#fff" stroke-width="3"/>
    <rect x="2290" y="2286" width="34" height="34" rx="5" fill="#5b5fc7"/><circle cx="2318" cy="2286" r="8" fill="#7b83eb"/><rect x="2284" y="2294" width="20" height="20" fill="#4448a8"/>
    <path d="M3036,2307 l11,-11 l11,11" fill="none" stroke="#d5d8dc" stroke-width="3.5"/>
    <circle cx="3105" cy="2303" r="11" fill="none" stroke="#8fa3b8" stroke-width="3.5"/><path d="M3094,2303 h22 M3105,2292 v22" stroke="#8fa3b8" stroke-width="2.5"/>
    <path d="M3146,2296 a20,20 0 0 1 28,0 l-14,17Z" fill="#cfd3d8"/>
    <path d="M3196,2296 h7 l8,-6 v26 l-8,-6 h-7Z" fill="#cfd3d8"/><path d="M3216,2295 a10,10 0 0 1 0,16" fill="none" stroke="#cfd3d8" stroke-width="3"/>
    <rect x="3234" y="2294" width="28" height="18" rx="3" fill="#eceef0"/>
    <text x="3387" y="2298" font-size="17" fill="#e3e5e8" text-anchor="end" font-weight="bold">2:30 PM</text>
    <text x="3387" y="2324" font-size="17" fill="#e3e5e8" text-anchor="end" font-weight="bold">7/15/2024</text>
    <path d="M3409,2308 a10,11 0 0 1 18,-10 v12Z M3413,2313 h10" fill="none" stroke="#d5d8dc" stroke-width="3"/>
    <circle cx="3484" cy="2302" r="21" fill="#2f8fe8"/><path d="M3484,2281 a21,21 0 0 1 21,21 h-21Z" fill="#f25c9a"/><path d="M3484,2323 a21,21 0 0 0 21,-21 h-21Z" fill="#f7b731"/><path d="M3484,2323 a21,21 0 0 1 -21,-21 h21Z" fill="#3cc48a"/><circle cx="3484" cy="2302" r="9" fill="#15181d"/>
  </g>
 </g>
</g>
<!-- notch / camera housing -->
<g transform="translate(650,845) scale(0.170807)">
  <path d="M1570,106 V140 Q1570,208 1640,208 H2164 Q2234,208 2234,140 V106Z" fill="#0b0c0e" stroke="#8a8b8e" stroke-width="7"/>
  <rect x="1574" y="100" width="656" height="12" fill="#0b0c0e"/>
  <circle cx="1850" cy="160" r="16" fill="#1c1f24"/><circle cx="1850" cy="160" r="7" fill="#2d3340"/>
  <circle cx="1740" cy="160" r="13" fill="#14161a"/><circle cx="1632" cy="160" r="13" fill="#14161a"/><circle cx="2196" cy="160" r="11" fill="#14161a"/><circle cx="1932" cy="160" r="5" fill="#1e2126"/>
  <rect x="1766" y="84" width="130" height="10" fill="#77787b"/><rect x="1886" y="86" width="54" height="12" fill="#f0f0f1"/>
</g>
</svg>
</body>
</html>
